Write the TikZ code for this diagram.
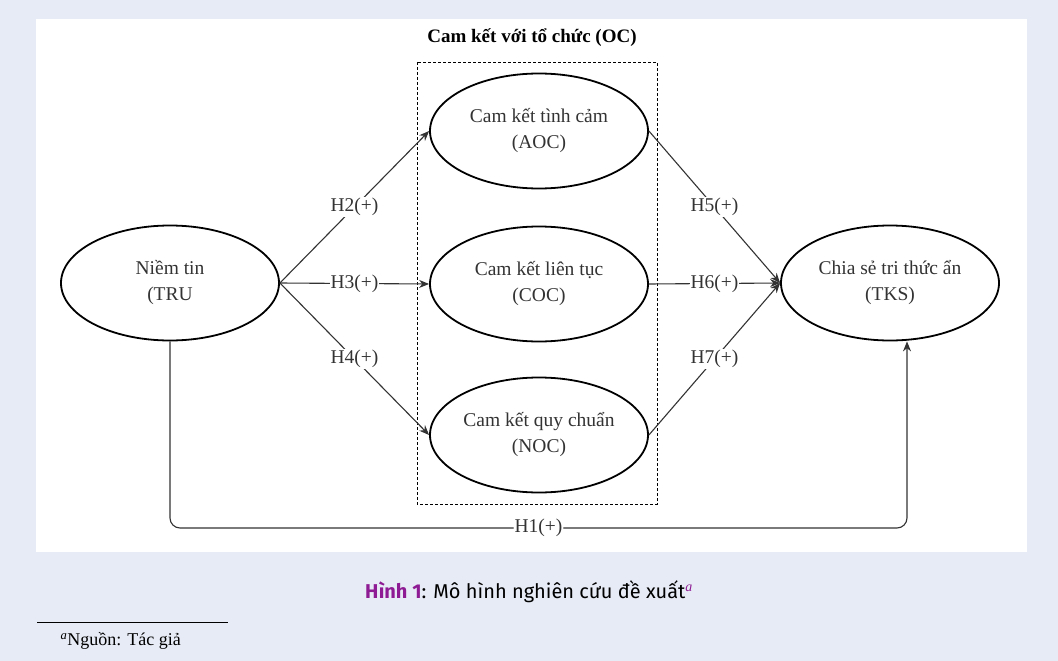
\documentclass[tikz,border=0pt]{standalone}
\usepackage{fontspec}
\setmainfont{Liberation Serif}
\newfontfamily\capfont{Fira Sans}
\usetikzlibrary{shapes.geometric,arrows.meta}
\definecolor{pagebg}{HTML}{E7EBF5}
\definecolor{txt}{HTML}{333333}
\definecolor{capurple}{HTML}{8E1B93}
\tikzset{
  ell/.style={ellipse, draw=black, line width=1.8pt, minimum width=218pt, minimum height=115pt, inner sep=0pt, align=center, text=txt, font=\fontsize{19.5}{26}\selectfont},
  conn/.style={draw=txt, line width=1.1pt, -{Stealth[length=10pt,width=8pt]}},
  lbl/.style={fill=white, inner sep=1pt, text=txt, font=\fontsize{19.5}{22}\selectfont},
  ocbox/.style={draw=black, line width=0.9pt, dash pattern=on 3pt off 2pt}
}
\begin{document}
\begin{tikzpicture}[x=1pt,y=-1pt]
\useasboundingbox (0,0) rectangle (1058,661);
\fill[pagebg] (0,0) rectangle (1058,661);
\fill[white] (36,19) rectangle (1027,552);
% dashed group box
\draw[ocbox] (417,62) rectangle (657,504);
\node[font=\bfseries\fontsize{19}{21}\selectfont, text=black] (title) at (532,38) {Cam kết với tổ chức (OC)};
% nodes
\node[ell] (tru) at (170,283) {Niềm tin\\(TRU};
\node[ell] (aoc) at (539,131) {Cam kết tình cảm\\(AOC)};
\node[ell] (coc) at (539,284) {Cam kết liên tục\\(COC)};
\node[ell] (noc) at (539,435) {Cam kết quy chuẩn\\(NOC)};
\node[ell] (tks) at (890,283) {Chia sẻ tri thức ẩn\\(TKS)};
% connectors
\draw[conn] (tru.east) -- node[lbl]{H2(+)} (aoc.west);
\draw[conn] (tru.east) -- node[lbl]{H3(+)} (coc.west);
\draw[conn] (tru.east) -- node[lbl]{H4(+)} (noc.west);
\draw[conn] (aoc.east) -- node[lbl]{H5(+)} (tks.west);
\draw[conn] (coc.east) -- node[lbl]{H6(+)} (tks.west);
\draw[conn] (noc.east) -- node[lbl]{H7(+)} (tks.west);
\coordinate (h1a) at (170,528);
\coordinate (h1b) at (907,528);
\draw[conn, rounded corners=10pt] (tru.south) -- (h1a) -- node[lbl, pos=0.5]{H1(+)} (h1b) -- (tks.south -| h1b);
% caption
\node[font=\capfont\fontsize{20}{23}\selectfont, text=black] (cap) at (529,592) {{\bfseries\color{capurple}Hình 1}: Mô hình nghiên cứu đề xuất\textsuperscript{\color{capurple}\rmfamily\itshape a}};
\draw[black, line width=0.7pt] (37,622) -- (228,622);
\node[anchor=west, font=\fontsize{18}{20}\selectfont, text=black] (fn) at (57,641) {\textsuperscript{\itshape a}Nguồn: Tác giả};
\end{tikzpicture}
\end{document}
